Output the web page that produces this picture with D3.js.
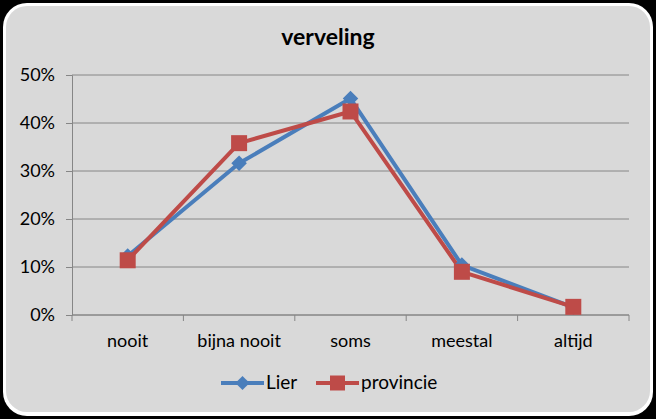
<!DOCTYPE html>
<html>
<head>
<meta charset="utf-8">
<script src="https://cdn.jsdelivr.net/npm/d3@7"></script>
<style>
  body { margin: 0; background: #000; }
  svg { display: block; font-family: Lato, "Open Sans", sans-serif; }
</style>
</head>
<body>
<svg id="chart" width="656" height="419"></svg>
<script>
// data
const categories = ["nooit", "bijna nooit", "soms", "meestal", "altijd"];
const lier = [0.123, 0.316, 0.451, 0.104, 0.016];
const provincie = [0.114, 0.358, 0.424, 0.090, 0.017];
const yTicks = [0, 0.1, 0.2, 0.3, 0.4, 0.5];

const W = 656, H = 419;
const plot = { left: 72, right: 629, top: 75, bottom: 315 };

const svg = d3.select("#chart");

// frame
svg.append("rect").attr("width", W).attr("height", H).attr("fill", "#000");
svg.append("rect")
    .attr("x", 3).attr("y", 3).attr("width", W - 6).attr("height", H - 6)
    .attr("rx", 24).attr("fill", "#fff");
svg.append("rect")
    .attr("x", 6).attr("y", 6).attr("width", W - 12).attr("height", H - 13)
    .attr("rx", 21).attr("fill", "#d9d9d9");

const x = d3.scaleBand().domain(categories).range([plot.left, plot.right]);
const y = d3.scaleLinear().domain([0, 0.5]).range([plot.bottom, plot.top]);

// gridlines
svg.append("g").selectAll("line")
    .data(yTicks)
    .enter().append("line")
    .attr("x1", plot.left).attr("x2", plot.right)
    .attr("y1", d => y(d)).attr("y2", d => y(d))
    .attr("stroke", "#868686").attr("stroke-width", 1);

// y axis
const yAxis = svg.append("g")
    .attr("transform", `translate(${plot.left},0)`)
    .call(d3.axisLeft(y).tickValues(yTicks).tickFormat(d3.format(".0%")).tickSize(6).tickPadding(11));
yAxis.select(".domain").attr("stroke", "#868686");
yAxis.selectAll(".tick line").attr("stroke", "#868686");
yAxis.selectAll("text").attr("font-size", 18).attr("fill", "#000")
    .attr("font-family", "Lato, 'Open Sans', sans-serif");

// x axis with ticks at band boundaries
const xAxis = svg.append("g")
    .attr("transform", `translate(0,${plot.bottom})`);
xAxis.append("line")
    .attr("x1", plot.left).attr("x2", plot.right)
    .attr("stroke", "#868686");
const bounds = categories.map(c => x(c)).concat([plot.right]);
xAxis.selectAll(".bt").data(bounds).enter().append("line")
    .attr("x1", d => d).attr("x2", d => d)
    .attr("y1", 0).attr("y2", 6)
    .attr("stroke", "#868686");
xAxis.selectAll("text").data(categories).enter().append("text")
    .attr("x", d => x(d) + x.bandwidth() / 2)
    .attr("y", 32)
    .attr("text-anchor", "middle")
    .attr("font-size", 18)
    .text(d => d);

const cx = c => x(c) + x.bandwidth() / 2;
const line = d3.line().x((d, i) => cx(categories[i])).y(d => y(d));

const series = [
    { name: "Lier", values: lier, color: "#4a7ebb", shape: "diamond" },
    { name: "provincie", values: provincie, color: "#be4b48", shape: "square" }
];

function marker(shape, s) {
    // diamond = square rotated 45 degrees
    const sym = d3.symbol().type(d3.symbolSquare).size(s * s);
    return { d: sym(), rot: shape === "diamond" ? 45 : 0 };
}

series.forEach(s => {
    svg.append("path")
        .datum(s.values)
        .attr("d", line)
        .attr("fill", "none")
        .attr("stroke", s.color)
        .attr("stroke-width", 4)
        .attr("stroke-linejoin", "round");
});
series.forEach(s => {
    const m = marker(s.shape, s.shape === "square" ? 16 : 11);
    svg.append("g").selectAll("path")
        .data(s.values)
        .enter().append("path")
        .attr("d", m.d)
        .attr("transform", (d, i) => `translate(${cx(categories[i])},${y(d)}) rotate(${m.rot})`)
        .attr("fill", s.color);
});

// title
svg.append("text")
    .attr("x", 328).attr("y", 45)
    .attr("text-anchor", "middle")
    .attr("font-size", 23).attr("font-weight", "bold")
    .text("verveling");

// legend
const legendItems = [
    { s: series[0], x0: 221, tx: 266 },
    { s: series[1], x0: 316, tx: 361 }
];
const ly = 383;
legendItems.forEach(li => {
    svg.append("line")
        .attr("x1", li.x0).attr("x2", li.x0 + 43)
        .attr("y1", ly).attr("y2", ly)
        .attr("stroke", li.s.color).attr("stroke-width", 4);
    const m = marker(li.s.shape, li.s.shape === "square" ? 15 : 10);
    svg.append("path")
        .attr("d", m.d)
        .attr("transform", `translate(${li.x0 + 21.5},${ly}) rotate(${m.rot})`)
        .attr("fill", li.s.color);
    svg.append("text")
        .attr("x", li.tx).attr("y", ly + 6)
        .attr("font-size", 19)
        .text(li.s.name);
});
</script>
</body>
</html>
